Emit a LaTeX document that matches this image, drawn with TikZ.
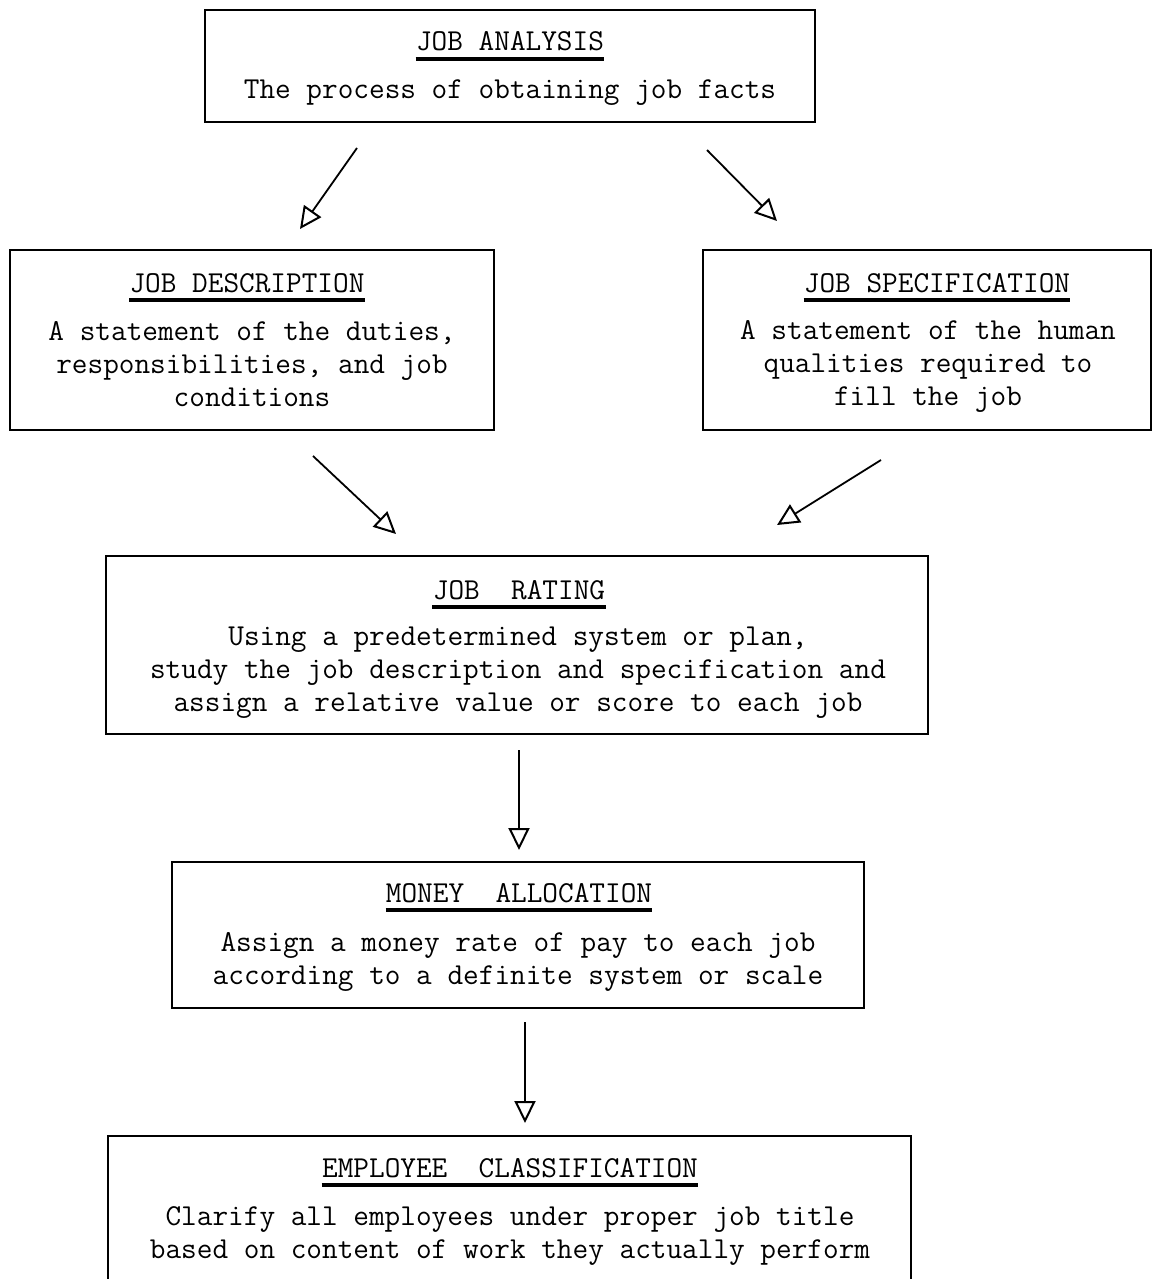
\documentclass[tikz,border=0pt]{standalone}
\usepackage{fontspec}
\usetikzlibrary{arrows.meta}
\begin{document}
\begin{tikzpicture}[x=0.5pt,y=-0.5pt,
  stagebox/.style={draw, line width=1.4pt, rectangle, inner sep=0pt},
  headtext/.style={font=\ttfamily\fontsize{15.2}{16.5}\selectfont, inner sep=0pt, anchor=base},
  bodytext/.style={font=\ttfamily\fontsize{15.2}{16.5}\selectfont, align=center, inner sep=0pt},
  headline/.style={line width=1.7pt},
  flow/.style={line width=0.9pt, -{Triangle[open, length=11pt, width=10.5pt, line width=1pt]}}
]
\clip (0,0) rectangle (1153,1279);
\fill[white] (0,0) rectangle (1153,1279);

% boxes
\node[stagebox, minimum width=305pt, minimum height=56pt] (ana) at (510,66) {};
\node[stagebox, minimum width=242pt, minimum height=90pt] (des) at (252,340) {};
\node[stagebox, minimum width=224pt, minimum height=90pt] (spe) at (927,340) {};
\node[stagebox, minimum width=411pt, minimum height=89pt] (rat) at (517,645) {};
\node[stagebox, minimum width=346pt, minimum height=73pt] (mon) at (518,935) {};
\node[stagebox, minimum width=401.5pt, minimum height=72pt] (emp) at (509.5,1208) {};

% headings
\node[headtext] (anah) at (510,51) {JOB ANALYSIS};
\node[headtext] (desh) at (247,292) {JOB DESCRIPTION};
\node[headtext] (speh) at (937,292) {JOB SPECIFICATION};
\node[headtext] (rath) at (519,599) {JOB\ \ RATING};
\node[headtext] (monh) at (519,902) {MONEY\ \ ALLOCATION};
\node[headtext] (emph) at (510,1177) {EMPLOYEE\ \ CLASSIFICATION};
\foreach \h in {anah,desh,speh,rath,monh,emph}
  \draw[headline] ([yshift=-4pt]\h.base west) -- ([yshift=-4pt]\h.base east);

% descriptions
\node[bodytext] (anab) at (510,93) {The process of obtaining job facts};
\node[bodytext] (desb) at (252,364) {A statement of the duties,\\responsibilities, and job\\conditions};
\node[bodytext] (speb) at (928,366) {A statement of the human\\qualities required to\\fill the job};
\node[bodytext] (ratb) at (518,673) {Using a predetermined system or plan,\\study the job description and specification and\\assign a relative value or score to each job};
\node[bodytext] (monb) at (518,962) {Assign a money rate of pay to each job\\according to a definite system or scale};
\node[bodytext] (empb) at (510,1236) {Clarify all employees under proper job title\\based on content of work they actually perform};

% arrow ends
\coordinate (a1s) at (357,148); \coordinate (a1e) at (300,229);
\coordinate (a2s) at (707,150); \coordinate (a2e) at (777,221);
\coordinate (a3s) at (313,456); \coordinate (a3e) at (396,534);
\coordinate (a4s) at (881,460); \coordinate (a4e) at (777,525);
\coordinate (a5s) at (519,750); \coordinate (a5e) at (519,850);
\coordinate (a6s) at (525,1022); \coordinate (a6e) at (525,1123);

\draw[flow] (a1s) -- (a1e);
\draw[flow] (a2s) -- (a2e);
\draw[flow] (a3s) -- (a3e);
\draw[flow] (a4s) -- (a4e);
\draw[flow] (a5s) -- (a5e);
\draw[flow] (a6s) -- (a6e);
\end{tikzpicture}
\end{document}
